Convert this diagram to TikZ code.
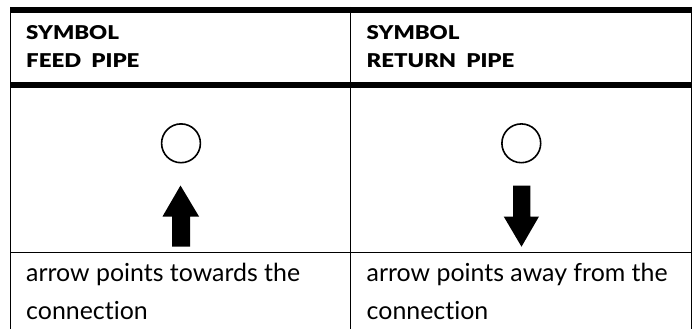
\documentclass[tikz,border=0pt]{standalone}
\usepackage{fontspec}
\setmainfont{Lato}[Ligatures=NoCommon]
\newfontfamily\headfont{Lato}[FakeStretch=1.17,WordSpace=2,BoldFont=Lato Black,BoldFeatures={FakeStretch=1.17,WordSpace=2}]
\tikzset{
  thickrule/.style={line width=6pt,black},
  thinrule/.style={line width=1pt,black},
  headtext/.style={anchor=base west,inner sep=0pt,font=\headfont\fontsize{19}{22}\selectfont\bfseries},
  bodytext/.style={anchor=base west,inner sep=0pt,font=\fontsize{24.9}{28}\selectfont},
  ring/.style={circle,draw=black,line width=1.6pt,minimum size=38.8pt,inner sep=0pt},
  blockarrow/.style={fill=black,draw=none}
}
\begin{document}
\begin{tikzpicture}[x=1pt,y=-1pt]
\useasboundingbox (0,0) rectangle (694,329);
\fill[white] (0,0) rectangle (694,329);
% table rules
\draw[thinrule] (10.5,7) -- (10.5,329);
\draw[thinrule] (350.5,7) -- (350.5,329);
\draw[thinrule] (691,7) -- (691,329);
\draw[thickrule] (10,10) -- (691.5,10);
\draw[thickrule] (10,84.8) -- (691.5,84.8);
\draw[thinrule] (10,252.5) -- (691.5,252.5);
% header text
\node[headtext] (h1a) at (26,40) {SYMBOL};
\node[headtext] (h1b) at (26,68) {FEED PIPE};
\node[headtext] (h2a) at (366.5,40) {SYMBOL};
\node[headtext] (h2b) at (366.5,68) {RETURN PIPE};
% symbols
\node[ring] (c1) at (181,143.3) {};
\node[ring] (c2) at (521.3,143.3) {};
\fill[blockarrow] (180.5,185.5) -- (199,216.5) -- (190,216.5) -- (190,246.7) -- (172,246.7) -- (172,216.5) -- (162.5,216.5) -- cycle;
\fill[blockarrow] (521.5,246.7) -- (539,216.5) -- (530.3,216.5) -- (530.3,185.7) -- (513,185.7) -- (513,216.5) -- (503.7,216.5) -- cycle;
% body text
\node[bodytext] (b1a) at (26,281.5) {arrow points towards the};
\node[bodytext] (b1b) at (26,319) {connection};
\node[bodytext] (b2a) at (366.5,281.5) {arrow points away from the};
\node[bodytext] (b2b) at (366.5,319) {connection};
\end{tikzpicture}
\end{document}
